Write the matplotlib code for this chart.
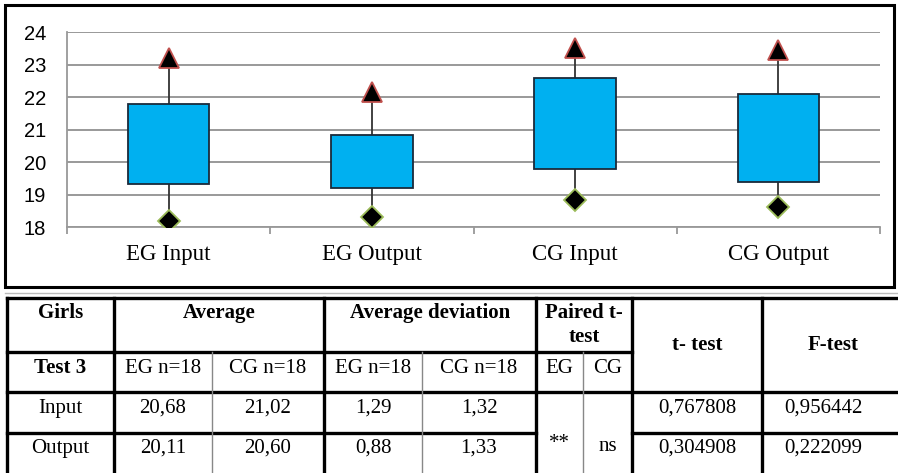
import matplotlib.pyplot as plt
from matplotlib.patches import Rectangle

# box plot data
groups = ["EG Input", "EG Output", "CG Input", "CG Output"]
q_low = [19.31, 19.21, 19.78, 19.39]
q_high = [21.8, 20.83, 22.57, 22.08]
max_vals = [23.2, 22.16, 23.5, 23.45]
min_vals = [18.2, 18.3, 18.83, 18.62]
y_ticks = [18, 19, 20, 21, 22, 23, 24]

# table contents
avg_eg = ["20,68", "20,11"]
avg_cg = ["21,02", "20,60"]
dev_eg = ["1,29", "0,88"]
dev_cg = ["1,32", "1,33"]
paired = ["**", "ns"]
t_test = ["0,767808", "0,304908"]
f_test = ["0,956442", "0,222099"]
row_names = ["Input", "Output"]

W, H = 898, 473
fig = plt.figure(figsize=(W / 100, H / 100), dpi=100)

# overlay in pixel coordinates for borders and table
ov = fig.add_axes([0, 0, 1, 1])
ov.set_xlim(0, W)
ov.set_ylim(H, 0)
ov.axis("off")

# chart frame
ov.add_patch(Rectangle((5, 5), 889, 282, fill=False, lw=2.2, ec="black", zorder=1))
ov.plot([5, 898], [292.5, 292.5], color="#bbbbbb", lw=1)

# box plot axes
left, right, top, bottom = 67, 880, 32, 227
ax = fig.add_axes([left / W, (H - bottom) / H, (right - left) / W, (bottom - top) / H])
ax.set_zorder(2)
ax.patch.set_alpha(0)
x = list(range(1, len(groups) + 1))

ax.vlines(x, min_vals, max_vals, color="#333333", lw=1.3, zorder=2)
ax.bar(x, [h - l for h, l in zip(q_high, q_low)], bottom=q_low, width=0.4,
       color="#00B0F0", edgecolor="#1a2a3a", lw=1.3, zorder=3)
ax.plot(x, max_vals, ls="none", marker="^", ms=14, mfc="black", mec="#c0504d",
        mew=1.3, zorder=4)
ax.plot(x, min_vals, ls="none", marker="D", ms=11, mfc="black", mec="#9bbb59",
        mew=1.3, zorder=4)

ax.set_xlim(0.5, 4.5)
ax.set_ylim(18, 24)
ax.set_yticks(y_ticks)
ax.set_yticklabels([str(t) for t in y_ticks], fontsize=14.5, family="Liberation Sans")
ax.grid(axis="y", color="#999999", lw=1.4)
ax.set_axisbelow(True)
ax.set_xticks(x)
ax.set_xticklabels(groups, fontsize=16.5, family="Liberation Serif")
ax.set_xticks([0.5, 1.5, 2.5, 3.5, 4.5], minor=True)
ax.tick_params(axis="x", which="major", length=0, pad=12)
ax.tick_params(axis="x", which="minor", length=5, color="#999999", width=1.3)
ax.tick_params(axis="y", length=0, pad=15)
for s in ["top", "right"]:
    ax.spines[s].set_visible(False)
ax.spines["left"].set_color("#999999")
ax.spines["bottom"].set_color("#999999")
ax.spines["left"].set_lw(1.3)
ax.spines["bottom"].set_lw(1.3)

# table
cols = [7, 114, 212, 324, 422, 536, 583, 632, 762, 905]
rows = [298, 352, 392, 433, 480]
thick = dict(color="black", lw=2.4, solid_capstyle="projecting")
thin = dict(color="#888888", lw=1.0)

# horizontal lines
ov.plot([cols[0], cols[-1]], [rows[0], rows[0]], **thick)
ov.plot([cols[0], cols[-1]], [rows[2], rows[2]], **thick)
ov.plot([cols[0], cols[1]], [rows[1], rows[1]], **thick)
ov.plot([cols[1], cols[7]], [rows[1], rows[1]], **thick)
ov.plot([cols[0], cols[5]], [rows[3], rows[3]], **thick)
ov.plot([cols[7], cols[-1]], [rows[3], rows[3]], **thick)
# vertical lines
for c in [cols[0], cols[1], cols[3], cols[5], cols[7], cols[8]]:
    ov.plot([c, c], [rows[0], rows[-1]], **thick)
ov.plot([cols[2], cols[2]], [rows[1], rows[-1]], **thin)
ov.plot([cols[4], cols[4]], [rows[1], rows[-1]], **thin)
ov.plot([cols[6], cols[6]], [rows[1], rows[-1]], **thin)

ts = 15
bold = dict(fontsize=ts, family="Liberation Serif", fontweight="bold", ha="center", va="center")
norm = dict(fontsize=ts, family="Liberation Serif", ha="center", va="center")


def mid(a, b):
    return (cols[a] + cols[b]) / 2


ov.text(mid(0, 1), 313, "Girls", **bold)
ov.text(mid(1, 3), 313, "Average", **bold)
ov.text(mid(3, 5), 313, "Average deviation", **bold)
ov.text(mid(5, 7), 313, "Paired t-", **bold)
ov.text(mid(5, 7), 337, "test", **bold)
ov.text(mid(7, 8), 345, "t- test", **bold)
ov.text(mid(8, 9), 345, "F-test", **bold)
ov.text(mid(0, 1), 368, "Test 3", **bold)
for a in [1, 3]:
    ov.text(mid(a, a + 1), 368, "EG n=18", **norm)
    ov.text(mid(a + 1, a + 2), 368, "CG n=18", **norm)
ov.text(mid(5, 6), 368, "EG", **norm)
ov.text(mid(6, 7), 368, "CG", **norm)

row_y = [408, 448]
for i in range(2):
    ov.text(mid(0, 1), row_y[i], row_names[i], **norm)
    ov.text(mid(1, 2), row_y[i], avg_eg[i], **norm)
    ov.text(mid(2, 3), row_y[i], avg_cg[i], **norm)
    ov.text(mid(3, 4), row_y[i], dev_eg[i], **norm)
    ov.text(mid(4, 5), row_y[i], dev_cg[i], **norm)
    ov.text(mid(7, 8), row_y[i], t_test[i], **norm)
    ov.text(mid(8, 9) - 10, row_y[i], f_test[i], **norm)
ov.text(mid(5, 6), 443, paired[0], **norm)
ov.text(mid(6, 7), 446, paired[1], **norm)

fig.savefig("out.png", dpi=100)
